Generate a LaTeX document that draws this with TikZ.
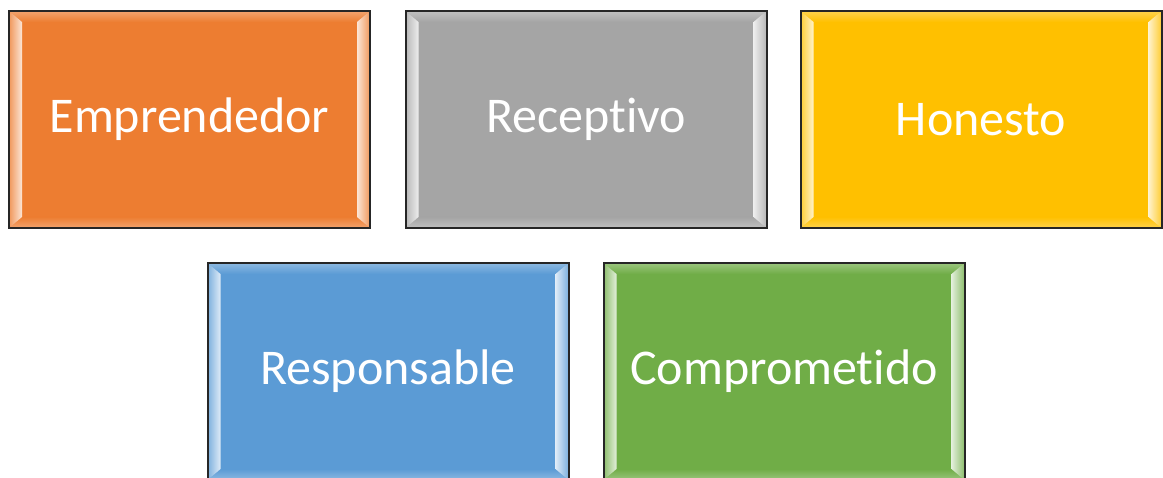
\documentclass[tikz,border=0pt]{standalone}
\usepackage{fontspec}
\setmainfont{Carlito}[Ligatures=NoCommon]
\usetikzlibrary{calc}

\definecolor{naranja}{HTML}{ED7D31}
\definecolor{gris}{HTML}{A5A5A5}
\definecolor{oro}{HTML}{FFC000}
\definecolor{azul}{HTML}{5B9BD5}
\definecolor{verde}{HTML}{70AD47}
\newcommand\tarjetafont{\fontsize{50}{60}\selectfont}

\tikzset{
  tarjeta/.style={draw=black!85, line width=2pt, fill=#1, text=white,
    minimum width=361pt, minimum height=217pt, inner sep=0pt, font=\tarjetafont,
    path picture={
      \coordinate (nw) at (path picture bounding box.north west);
      \coordinate (ne) at (path picture bounding box.north east);
      \coordinate (sw) at (path picture bounding box.south west);
      \coordinate (se) at (path picture bounding box.south east);
      \shade[top color=#1!70!white, bottom color=#1]
        (nw) -- (ne) -- ($(ne)+(-13pt,-11pt)$) -- ($(nw)+(13pt,-11pt)$) -- cycle;
      \shade[bottom color=#1!70!white, top color=#1]
        (sw) -- (se) -- ($(se)+(-13pt,11pt)$) -- ($(sw)+(13pt,11pt)$) -- cycle;
      \shade[left color=#1!80!white, right color=#1!20!white]
        (nw) -- (sw) -- ($(sw)+(13pt,11pt)$) -- ($(nw)+(13pt,-11pt)$) -- cycle;
      \shade[right color=#1!80!white, left color=#1!20!white]
        (ne) -- (se) -- ($(se)+(-13pt,11pt)$) -- ($(ne)+(-13pt,-11pt)$) -- cycle;
    }}
}

\begin{document}
\begin{tikzpicture}[x=1pt, y=-1pt]
\useasboundingbox (0,0) rectangle (1163,478);
\clip (0,0) rectangle (1163,478);
\node[tarjeta=naranja] (emprendedor) at (189.5,119.5) {Emprendedor};
\node[tarjeta=gris] (receptivo) at (586,119.5) {Receptivo};
\node[tarjeta=oro] (honesto) at (981,119.5) {Honesto};
\node[tarjeta=azul] (responsable) at (388,371.5) {Responsable};
\node[tarjeta=verde] (comprometido) at (784,371.5) {Comprometido};
\end{tikzpicture}
\end{document}
